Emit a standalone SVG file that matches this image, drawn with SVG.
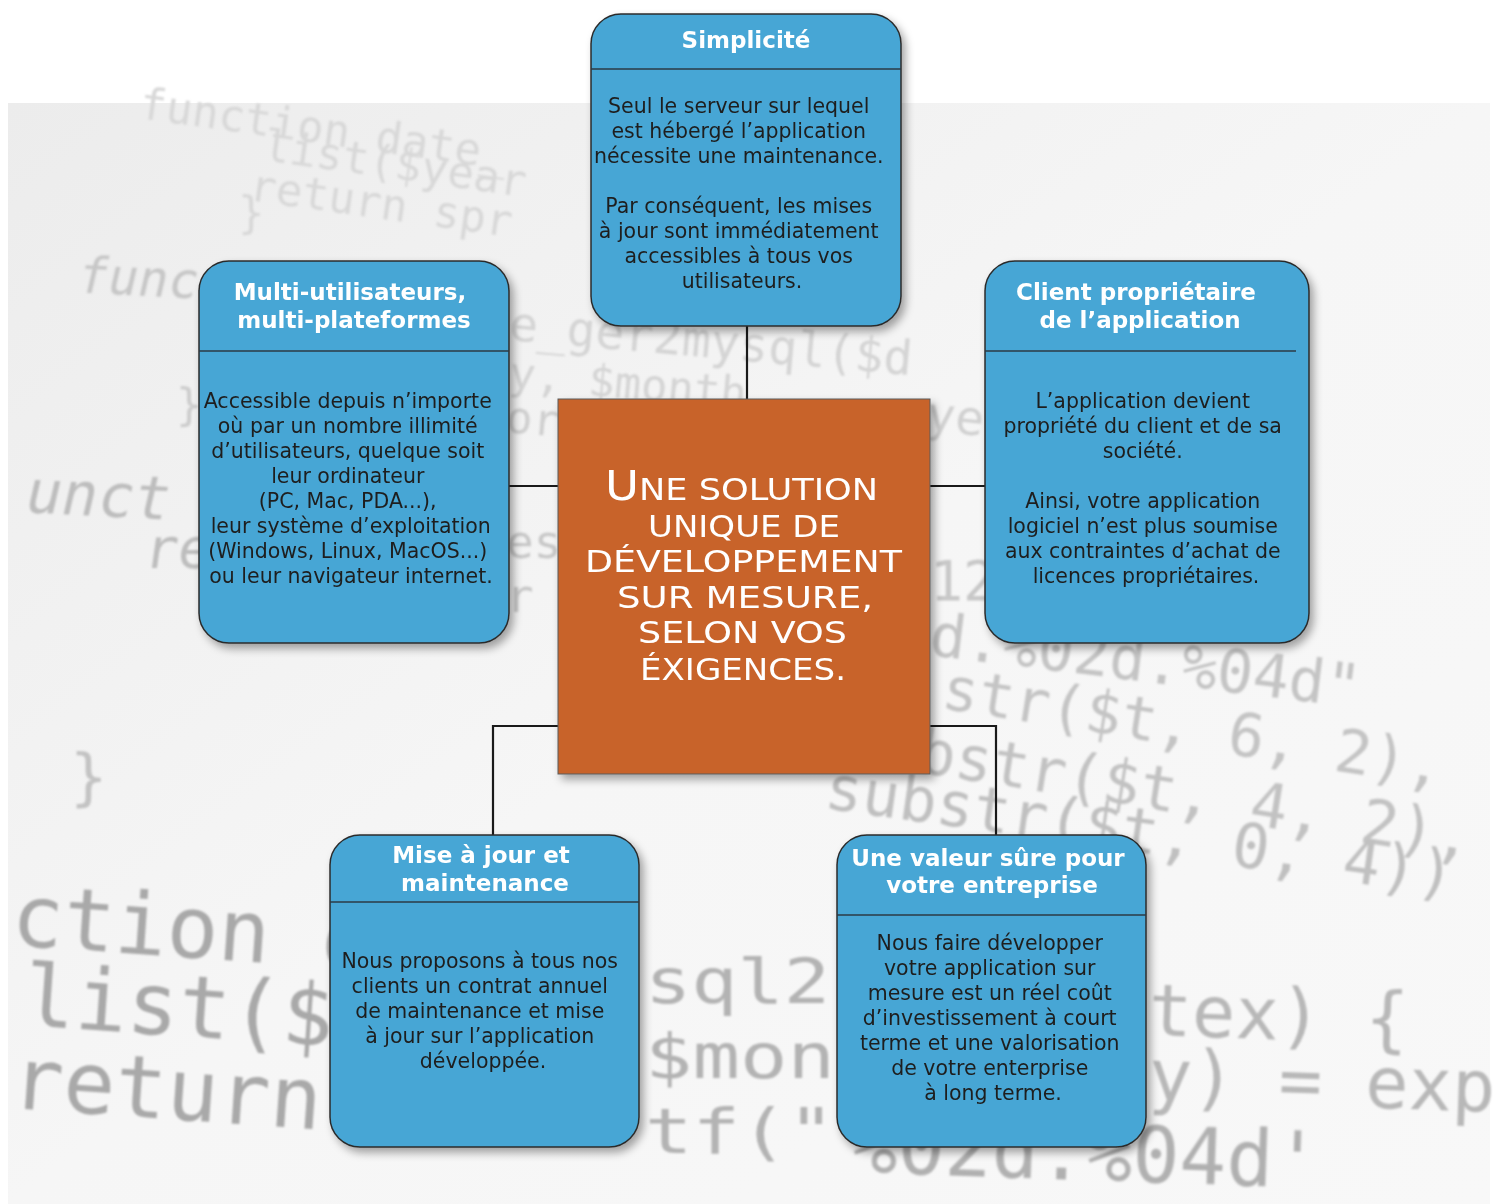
<svg xmlns="http://www.w3.org/2000/svg" width="1499" height="1204" viewBox="0 0 1499 1204">
<defs>
<linearGradient id="bg" x1="0" y1="0" x2="1" y2="1">
<stop offset="0" stop-color="#ececec"/>
<stop offset="0.5" stop-color="#f6f6f6"/>
<stop offset="1" stop-color="#f8f8f8"/>
</linearGradient>
<filter id="shadow" x="-10%" y="-10%" width="125%" height="125%">
<feDropShadow dx="4" dy="5" stdDeviation="4" flood-color="#000" flood-opacity="0.35"/>
</filter>
<filter id="soft" x="-5%" y="-5%" width="110%" height="110%">
<feGaussianBlur stdDeviation="0.8"/>
</filter>
</defs>
<style>
.code{font-family:"DejaVu Sans Mono","Liberation Mono",monospace;}
.box{fill:#46a6d5;stroke:#2b2b2b;stroke-width:1.5;}
.sep{stroke:#2b3a44;stroke-width:1.5;}
.title{font-family:"DejaVu Sans","Verdana",sans-serif;font-weight:bold;font-size:23px;fill:#ffffff;text-anchor:middle;}
.body{font-family:"DejaVu Sans","Verdana",sans-serif;font-size:20.5px;fill:#1e1e1e;text-anchor:middle;}
.centre{font-family:"DejaVu Sans","Liberation Sans",sans-serif;font-size:31px;fill:#ffffff;}
.big{font-size:41px;}
.link{fill:none;stroke:#1a1a1a;stroke-width:2.2;}
</style>

<g id="background">
<rect x="8" y="103" width="1482" height="1101" fill="url(#bg)"/>
<g class="code" filter="url(#soft)">
<text x="138" y="118" font-size="44" fill="#d8d8d8" transform="rotate(8 138 118)">function date_</text>
<text x="262" y="160" font-size="44" fill="#d8d8d8" transform="rotate(8 262 160)">list($year</text>
<text x="248" y="200" font-size="44" fill="#d8d8d8" transform="rotate(8 248 200)">return spr</text>
<text x="238" y="228" font-size="44" fill="#d8d8d8">}</text>
<text font-size="50" fill="#c6c6c6" transform="translate(75 292) rotate(3) skewX(-10)">func</text>
<text x="176" y="420" font-size="44" fill="#cccccc">}</text>
<text font-size="60" fill="#bdbdbd" transform="translate(22 512) rotate(3) skewX(-10)">unct</text>
<text font-size="56" fill="#bdbdbd" transform="translate(142 568) skewX(-8)">re</text>
<text x="70" y="798" font-size="62" fill="#c3c3c3">}</text>
<text x="508" y="340" font-size="48" fill="#d4d4d4" transform="rotate(5 508 340)">e_ger2mysql($d</text>
<text x="508" y="388" font-size="44" fill="#d4d4d4" transform="rotate(5 508 388)">y,  $month</text>
<text x="505" y="432" font-size="44" fill="#cfcfcf" transform="rotate(5 505 432)">or</text>
<text x="506" y="558" font-size="46" fill="#c8c8c8">es</text>
<text x="506" y="612" font-size="46" fill="#c8c8c8">r</text>
<text x="925" y="430" font-size="48" fill="#d0d0d0" transform="rotate(6 925 430)">ye</text>
<text x="930" y="600" font-size="55" fill="#c8c8c8">12</text>
<text x="928" y="655" font-size="60" fill="#c4c4c4" transform="rotate(7 928 655)">d.%02d.%04d"</text>
<text x="940" y="708" font-size="60" fill="#c4c4c4" transform="rotate(9 940 708)">str($t, 6, 2),</text>
<text x="842" y="760" font-size="62" fill="#c2c2c2" transform="rotate(9 842 760)">substr($t, 4, 2),</text>
<text x="823" y="808" font-size="62" fill="#c0c0c0" transform="rotate(8 823 808)">substr($t, 0, 4))</text>
<text x="10" y="945" font-size="86" fill="#a9a9a9" transform="rotate(4 10 945)">ction d</text>
<text x="22" y="1025" font-size="86" fill="#a9a9a9" transform="rotate(4 22 1025)">list($</text>
<text x="10" y="1108" font-size="86" fill="#a9a9a9" transform="rotate(4 10 1108)">return</text>
<text x="645" y="1003" font-size="62" fill="#b3b3b3" textLength="185" lengthAdjust="spacingAndGlyphs">sql2</text>
<text x="645" y="1078" font-size="62" fill="#b3b3b3" textLength="190" lengthAdjust="spacingAndGlyphs">$mon</text>
<text x="645" y="1153" font-size="62" fill="#b3b3b3" textLength="190" lengthAdjust="spacingAndGlyphs">tf("</text>
<text x="1148" y="1035" font-size="72" fill="#b8b8b8" transform="rotate(2 1148 1035)">tex) {</text>
<text x="1148" y="1100" font-size="72" fill="#b8b8b8" transform="rotate(2 1148 1100)">y) = exp</text>
<text x="850" y="1172" font-size="78" fill="#b0b0b0" transform="rotate(2 850 1172)">%02d.%04d'</text>
</g>
</g>

<g id="connectors">
<path class="link" d="M747,326 V399"/>
<path class="link" d="M509,486 H558"/>
<path class="link" d="M930,486 H985"/>
<path class="link" d="M558,726 H493 V835"/>
<path class="link" d="M930,726 H996 V835"/>
</g>

<g id="n-simplicite">
<rect class="box" x="591" y="14" width="310" height="312" rx="30" filter="url(#shadow)"/>
<line class="sep" x1="591" y1="69" x2="901" y2="69"/>
<text class="title" x="746" y="48">Simplicité</text>
<text class="body">
<tspan x="742" y="113">Seul le serveur sur lequel</tspan>
<tspan x="742" y="138">est hébergé l’application</tspan>
<tspan x="742" y="163">nécessite une maintenance.</tspan>
<tspan x="742" y="213">Par conséquent, les mises</tspan>
<tspan x="742" y="238">à jour sont immédiatement</tspan>
<tspan x="742" y="263">accessibles à tous vos</tspan>
<tspan x="742" y="288">utilisateurs.</tspan>
</text>
</g>

<g id="n-multi">
<rect class="box" x="199" y="261" width="310" height="382" rx="30" filter="url(#shadow)"/>
<line class="sep" x1="199" y1="351" x2="509" y2="351"/>
<text class="title">
<tspan x="354" y="300">Multi-utilisateurs,</tspan>
<tspan x="354" y="328">multi-plateformes</tspan>
</text>
<text class="body">
<tspan x="351" y="408">Accessible depuis n’importe</tspan>
<tspan x="351" y="433">où par un nombre illimité</tspan>
<tspan x="351" y="458">d’utilisateurs, quelque soit</tspan>
<tspan x="351" y="483">leur ordinateur</tspan>
<tspan x="351" y="508">(PC, Mac, PDA...),</tspan>
<tspan x="354" y="533">leur système d’exploitation</tspan>
<tspan x="351" y="558">(Windows, Linux, MacOS...)</tspan>
<tspan x="351" y="583">ou leur navigateur internet.</tspan>
</text>
</g>

<g id="n-client">
<rect class="box" x="985" y="261" width="324" height="382" rx="30" filter="url(#shadow)"/>
<line class="sep" x1="985" y1="351" x2="1296" y2="351"/>
<text class="title">
<tspan x="1140" y="300">Client propriétaire</tspan>
<tspan x="1140" y="328">de l’application</tspan>
</text>
<text class="body">
<tspan x="1146" y="408">L’application devient</tspan>
<tspan x="1146" y="433">propriété du client et de sa</tspan>
<tspan x="1146" y="458">société.</tspan>
<tspan x="1146" y="508">Ainsi, votre application</tspan>
<tspan x="1146" y="533">logiciel n’est plus soumise</tspan>
<tspan x="1146" y="558">aux contraintes d’achat de</tspan>
<tspan x="1146" y="583">licences propriétaires.</tspan>
</text>
</g>

<g id="n-centre">
<rect x="558" y="399" width="372" height="375" fill="#c8632a" stroke="#5a5a5a" stroke-width="1" filter="url(#shadow)"/>
<text class="centre" x="605" y="500" textLength="273" lengthAdjust="spacingAndGlyphs"><tspan class="big">U</tspan>NE SOLUTION</text>
<text class="centre" x="648" y="537" textLength="192" lengthAdjust="spacingAndGlyphs">UNIQUE DE</text>
<text class="centre" x="585" y="572" textLength="317" lengthAdjust="spacingAndGlyphs">DÉVELOPPEMENT</text>
<text class="centre" x="617" y="608" textLength="256" lengthAdjust="spacingAndGlyphs">SUR MESURE,</text>
<text class="centre" x="638" y="643" textLength="209" lengthAdjust="spacingAndGlyphs">SELON VOS</text>
<text class="centre" x="640" y="680" textLength="206" lengthAdjust="spacingAndGlyphs">ÉXIGENCES.</text>
</g>

<g id="n-mise">
<rect class="box" x="330" y="835" width="309" height="312" rx="30" filter="url(#shadow)"/>
<line class="sep" x1="330" y1="902" x2="639" y2="902"/>
<text class="title">
<tspan x="485" y="863">Mise à jour et</tspan>
<tspan x="485" y="891">maintenance</tspan>
</text>
<text class="body">
<tspan x="483" y="968">Nous proposons à tous nos</tspan>
<tspan x="483" y="993">clients un contrat annuel</tspan>
<tspan x="483" y="1018">de maintenance et mise</tspan>
<tspan x="483" y="1043">à jour sur l’application</tspan>
<tspan x="483" y="1068">développée.</tspan>
</text>
</g>

<g id="n-valeur">
<rect class="box" x="837" y="835" width="309" height="312" rx="30" filter="url(#shadow)"/>
<line class="sep" x1="837" y1="915" x2="1146" y2="915"/>
<text class="title">
<tspan x="992" y="866">Une valeur sûre pour</tspan>
<tspan x="992" y="893">votre entreprise</tspan>
</text>
<text class="body">
<tspan x="993" y="950">Nous faire développer</tspan>
<tspan x="993" y="975">votre application sur</tspan>
<tspan x="993" y="1000">mesure est un réel coût</tspan>
<tspan x="993" y="1025">d’investissement à court</tspan>
<tspan x="993" y="1050">terme et une valorisation</tspan>
<tspan x="993" y="1075">de votre enterprise</tspan>
<tspan x="993" y="1100">à long terme.</tspan>
</text>
</g>
</svg>
